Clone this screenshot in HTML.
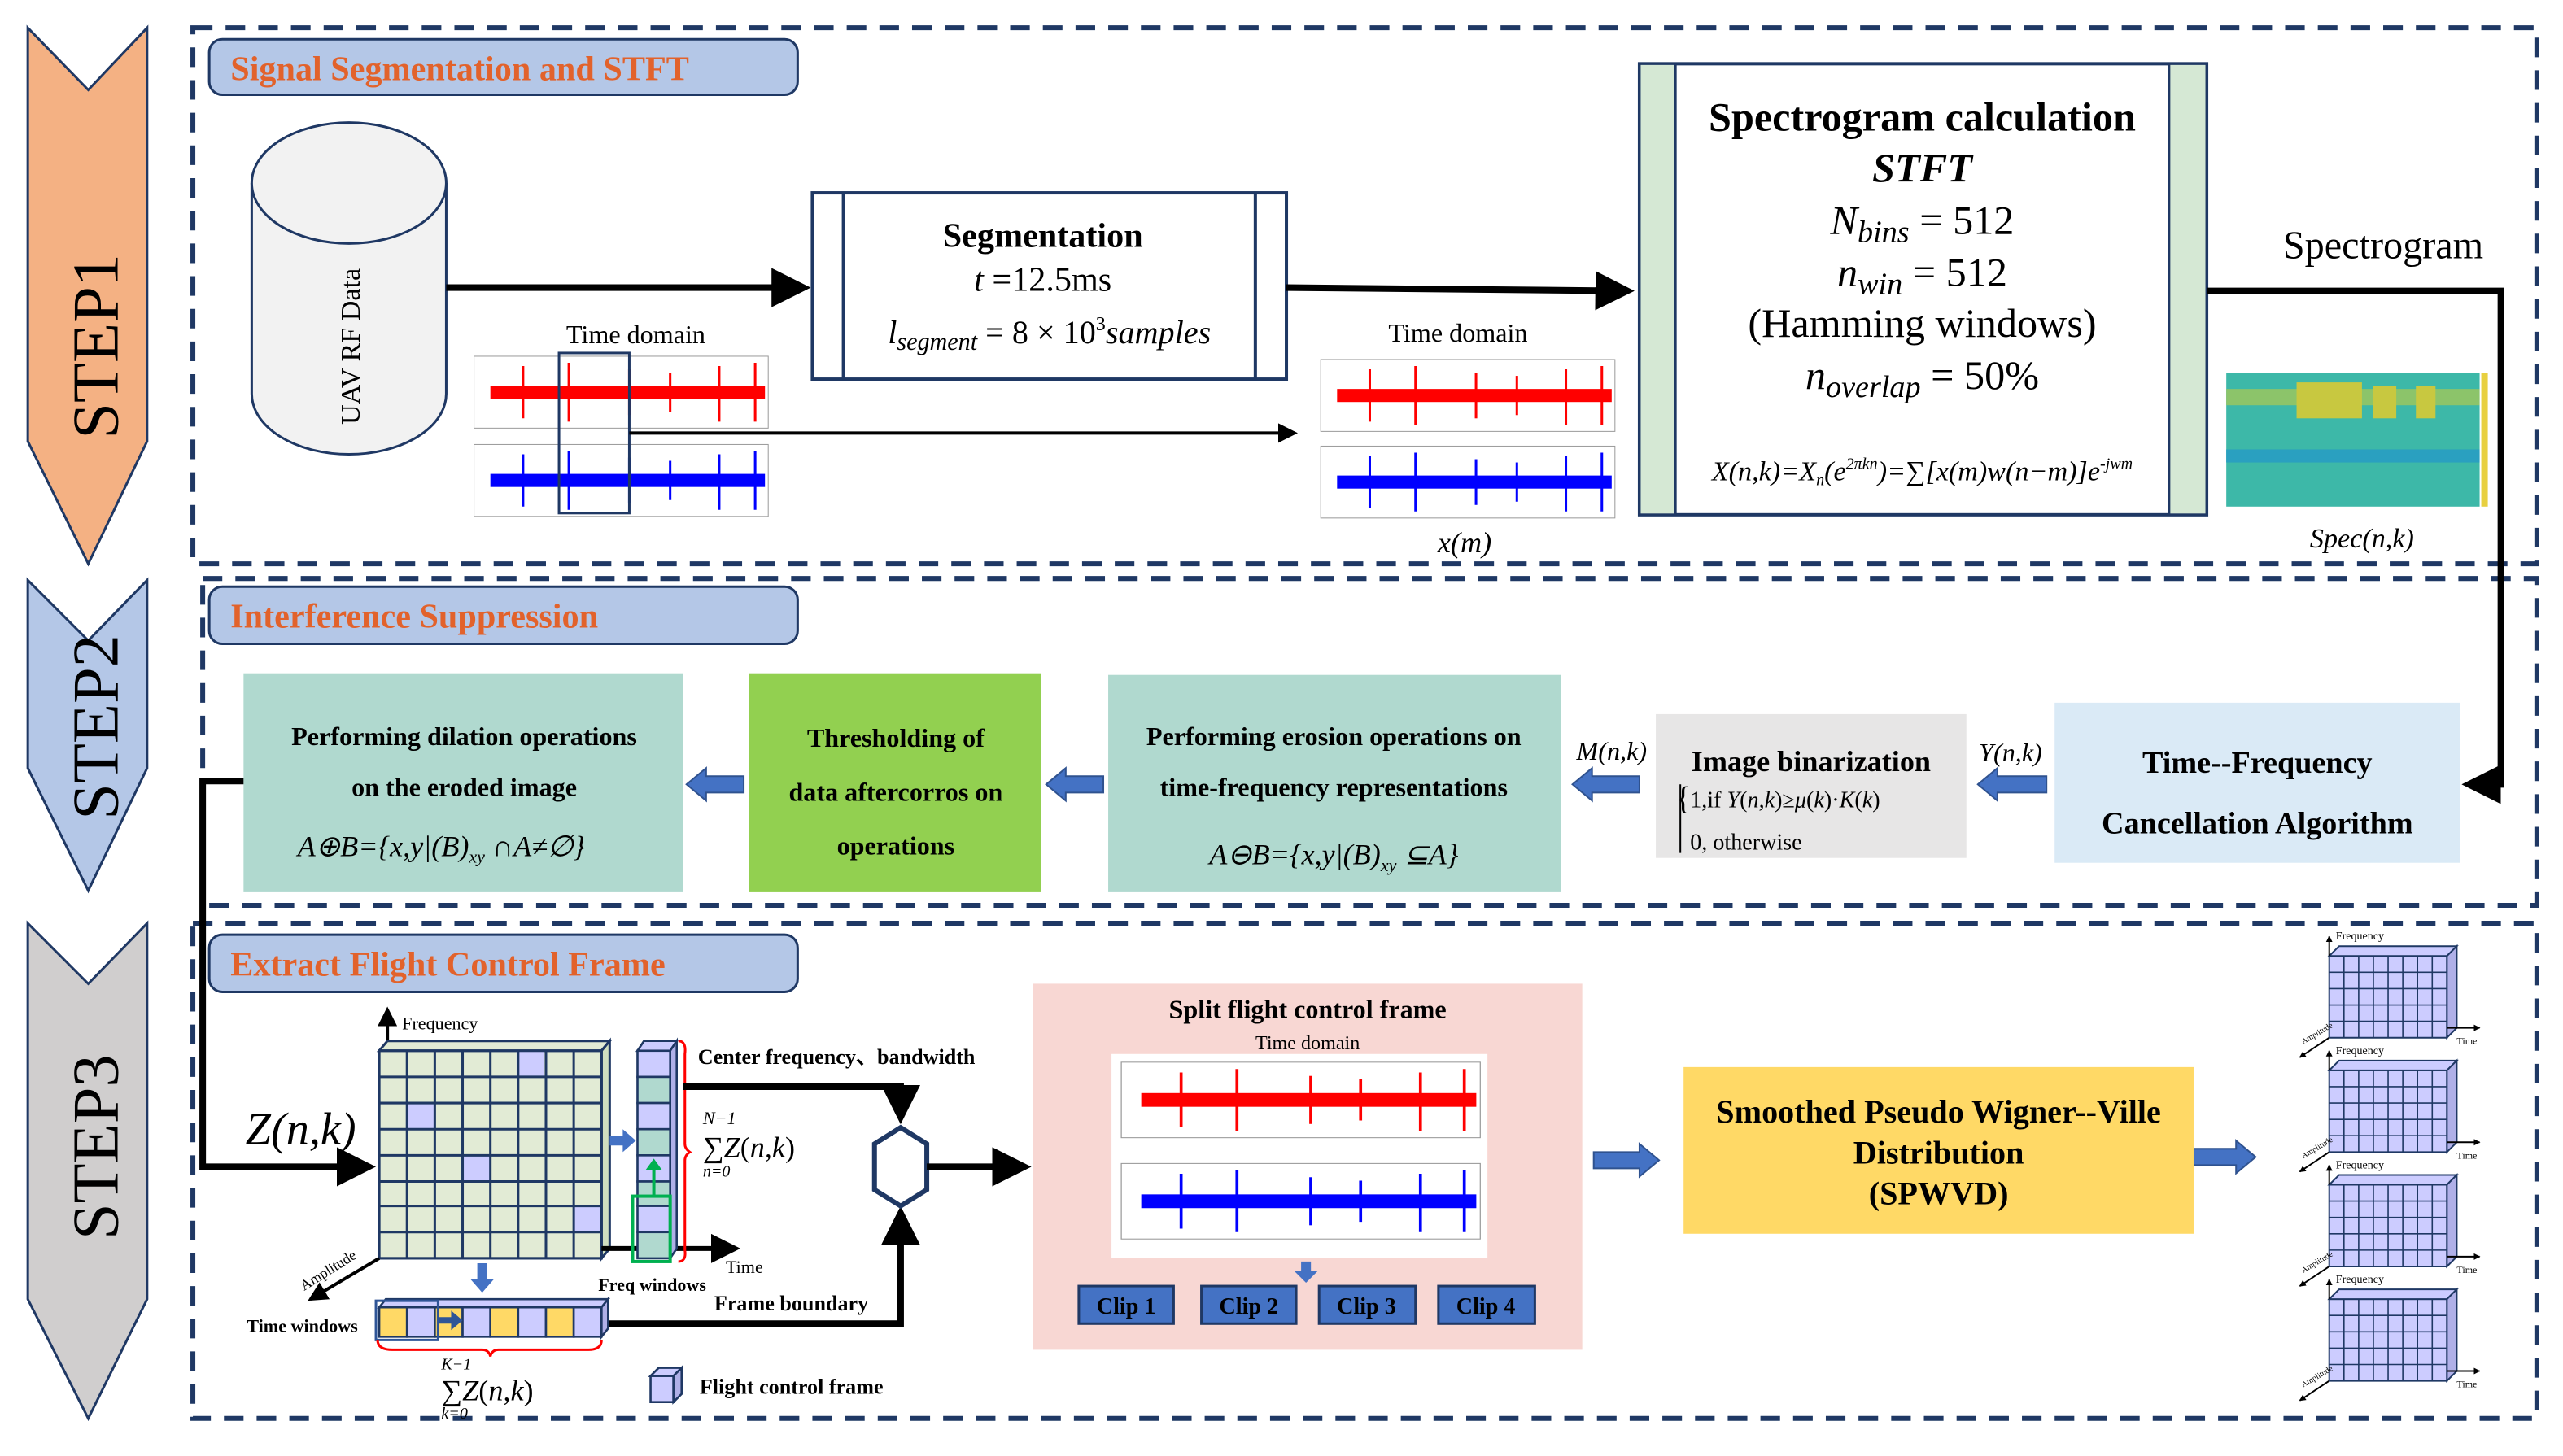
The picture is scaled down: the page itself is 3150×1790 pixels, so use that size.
<!DOCTYPE html>
<html><head><meta charset="utf-8"><style>
html,body{margin:0;padding:0;background:#fff;}
svg{display:block;}
text{font-family:"Liberation Serif",serif;}
</style></head><body>
<svg width="3150" height="1790" viewBox="0 0 1568 891" preserveAspectRatio="none" xmlns="http://www.w3.org/2000/svg">
<defs>
<marker id="ah" markerWidth="6" markerHeight="6" refX="5" refY="3" orient="auto" markerUnits="strokeWidth"><path d="M0,0 L6,3 L0,6 z" fill="#000"/></marker>
<marker id="ah2" markerWidth="4" markerHeight="4" refX="3.5" refY="2" orient="auto" markerUnits="strokeWidth"><path d="M0,0 L4,2 L0,4 z" fill="#000"/></marker>
<g id="plotR">
<rect x="0" y="0" width="180" height="44" fill="#fff" stroke="#999" stroke-width="0.5"/>
<rect x="10" y="18" width="168" height="8" fill="#f00"/>
<g stroke="#f00" stroke-width="1.5"><line x1="30" y1="6" x2="30" y2="38"/><line x1="58" y1="4" x2="58" y2="40"/><line x1="95" y1="8" x2="95" y2="36"/><line x1="120" y1="10" x2="120" y2="34"/><line x1="150" y1="6" x2="150" y2="40"/><line x1="172" y1="4" x2="172" y2="40"/></g>
</g>
<g id="plotB">
<rect x="0" y="0" width="180" height="44" fill="#fff" stroke="#999" stroke-width="0.5"/>
<rect x="10" y="18" width="168" height="8" fill="#00f"/>
<g stroke="#00f" stroke-width="1.5"><line x1="30" y1="6" x2="30" y2="38"/><line x1="58" y1="4" x2="58" y2="40"/><line x1="95" y1="8" x2="95" y2="36"/><line x1="120" y1="10" x2="120" y2="34"/><line x1="150" y1="6" x2="150" y2="40"/><line x1="172" y1="4" x2="172" y2="40"/></g>
</g>
<g id="cube3">
<path d="M0,8 L72,8 L72,58 L0,58 z" fill="#CCCCFF" stroke="#1F3864" stroke-width="1"/>
<path d="M0,8 L6,2 L78,2 L72,8 z" fill="#CCCCFF" stroke="#1F3864" stroke-width="1"/>
<path d="M72,8 L78,2 L78,52 L72,58 z" fill="#B0B0E8" stroke="#1F3864" stroke-width="1"/>
<g stroke="#1F3864" stroke-width="0.8">
<line x1="9" y1="8" x2="9" y2="58"/><line x1="18" y1="8" x2="18" y2="58"/><line x1="27" y1="8" x2="27" y2="58"/><line x1="36" y1="8" x2="36" y2="58"/><line x1="45" y1="8" x2="45" y2="58"/><line x1="54" y1="8" x2="54" y2="58"/><line x1="63" y1="8" x2="63" y2="58"/>
<line x1="0" y1="18" x2="72" y2="18"/><line x1="0" y1="28" x2="72" y2="28"/><line x1="0" y1="38" x2="72" y2="38"/><line x1="0" y1="48" x2="72" y2="48"/>
</g>
<line x1="0" y1="58" x2="-18" y2="70" stroke="#000" stroke-width="1" marker-end="url(#ah2)"/>
<line x1="72" y1="52" x2="92" y2="52" stroke="#000" stroke-width="1" marker-end="url(#ah2)"/>
<line x1="0" y1="8" x2="0" y2="-4" stroke="#000" stroke-width="1" marker-end="url(#ah2)"/>
<text x="4" y="-2" font-size="7">Frequency</text>
<text x="78" y="62" font-size="6">Time</text>
<text x="-16" y="62" font-size="5" transform="rotate(-30 -16 62)">Amplitude</text>
</g>
</defs>

<path d="M17,17 L54,55 L90,17 L90,270 L54,345 L17,270 z" fill="#F4B183" stroke="#1F3864" stroke-width="1.5"/>
<text transform="translate(72,212) rotate(-90)" font-size="40" text-anchor="middle" fill="#000">STEP1</text>
<path d="M17,355 L54,392 L90,355 L90,470 L54,545 L17,470 z" fill="#B4C7E7" stroke="#1F3864" stroke-width="1.5"/>
<text transform="translate(72,445) rotate(-90)" font-size="40" text-anchor="middle">STEP2</text>
<path d="M17,565 L54,602 L90,565 L90,795 L54,868 L17,795 z" fill="#D0CECE" stroke="#1F3864" stroke-width="1.5"/>
<text transform="translate(72,702) rotate(-90)" font-size="40" text-anchor="middle">STEP3</text>

<g fill="none" stroke="#1F3864" stroke-width="3" stroke-dasharray="12 8">
<rect x="118" y="17" width="1434" height="328"/>
<rect x="124" y="354" width="1428" height="200"/>
<rect x="118" y="565" width="1434" height="303"/>
</g>

<g fill="#B4C7E7" stroke="#1F3864" stroke-width="1.5">
<rect x="128" y="24" width="360" height="34" rx="8"/>
<rect x="128" y="359" width="360" height="35" rx="8"/>
<rect x="128" y="572" width="360" height="35" rx="8"/>
</g>
<g fill="#E2622B" font-weight="bold" font-size="21">
<text x="141" y="49">Signal Segmentation and STFT</text>
<text x="141" y="384">Interference Suppression</text>
<text x="141" y="597">Extract Flight Control Frame</text>
</g>

<!-- cylinder -->
<path d="M154,112 L154,241 A59.5,37 0 0 0 273,241 L273,112" fill="#F2F2F2" stroke="#1F3864" stroke-width="1.5"/>
<ellipse cx="213.5" cy="112" rx="59.5" ry="37" fill="#F2F2F2" stroke="#1F3864" stroke-width="1.5"/>
<text transform="translate(220,212) rotate(-90)" font-size="17" text-anchor="middle">UAV RF Data</text>

<line x1="273" y1="176" x2="492" y2="176" stroke="#000" stroke-width="4" marker-end="url(#ah)"/>

<text x="389" y="210" font-size="16" text-anchor="middle">Time domain</text>
<use href="#plotR" x="290" y="218"/>
<use href="#plotB" x="290" y="272"/>
<rect x="342" y="216" width="43" height="98" fill="none" stroke="#1F3864" stroke-width="1.5"/>
<line x1="385" y1="265" x2="792" y2="265" stroke="#000" stroke-width="2" marker-end="url(#ah)"/>

<rect x="497" y="118" width="290" height="114" fill="#fff" stroke="#1F3864" stroke-width="2"/>
<line x1="516" y1="118" x2="516" y2="232" stroke="#1F3864" stroke-width="2"/>
<line x1="768" y1="118" x2="768" y2="232" stroke="#1F3864" stroke-width="2"/>
<text x="638" y="151" font-size="21" font-weight="bold" text-anchor="middle">Segmentation</text>
<text x="638" y="178" font-size="21" text-anchor="middle"><tspan font-style="italic">t</tspan> =12.5ms</text>
<text x="642" y="210" font-size="20" text-anchor="middle"><tspan font-style="italic">l</tspan><tspan font-style="italic" font-size="15" dy="4">segment</tspan><tspan dy="-4"> = 8 × 10</tspan><tspan font-size="12" dy="-8">3</tspan><tspan dy="8" font-style="italic">samples</tspan></text>

<line x1="787" y1="176" x2="996" y2="178" stroke="#000" stroke-width="4" marker-end="url(#ah)"/>

<text x="892" y="209" font-size="16" text-anchor="middle">Time domain</text>
<use href="#plotR" x="808" y="220"/>
<use href="#plotB" x="808" y="273"/>
<text x="896" y="338" font-size="18" font-style="italic" text-anchor="middle">x(m)</text>

<rect x="1003" y="39" width="347" height="276" fill="#fff" stroke="#1F3864" stroke-width="2"/>
<rect x="1003" y="39" width="22" height="276" fill="#D5E8D4" stroke="#1F3864" stroke-width="1.5"/>
<rect x="1327" y="39" width="23" height="276" fill="#D5E8D4" stroke="#1F3864" stroke-width="1.5"/>
<text x="1176" y="80" font-size="25" font-weight="bold" text-anchor="middle">Spectrogram calculation</text>
<text x="1176" y="111" font-size="25" font-weight="bold" font-style="italic" text-anchor="middle">STFT</text>
<text x="1176" y="143" font-size="25" text-anchor="middle"><tspan font-style="italic">N</tspan><tspan font-style="italic" font-size="19" dy="5">bins</tspan><tspan dy="-5"> = 512</tspan></text>
<text x="1176" y="175" font-size="25" text-anchor="middle"><tspan font-style="italic">n</tspan><tspan font-style="italic" font-size="19" dy="5">win</tspan><tspan dy="-5"> = 512</tspan></text>
<text x="1176" y="206" font-size="25" text-anchor="middle">(Hamming windows)</text>
<text x="1176" y="238" font-size="25" text-anchor="middle"><tspan font-style="italic">n</tspan><tspan font-style="italic" font-size="19" dy="5">overlap</tspan><tspan dy="-5"> = 50%</tspan></text>
<text x="1176" y="294" font-size="17" font-style="italic" text-anchor="middle">X(n,k)=X<tspan font-size="10" dy="3">n</tspan><tspan dy="-3">(e</tspan><tspan font-size="10" dy="-7">2πkn</tspan><tspan dy="7">)=∑[x(m)w(n−m)]e</tspan><tspan font-size="10" dy="-7">-jwm</tspan></text>

<text x="1458" y="158" font-size="24" text-anchor="middle">Spectrogram</text>
<polyline points="1350,178 1530,178 1530,480 1510,480" fill="none" stroke="#000" stroke-width="4" marker-end="url(#ah)"/>

<rect x="1362" y="228" width="155" height="82" fill="#3DB8A8"/>
<rect x="1362" y="238" width="155" height="10" fill="#8CC46A"/>
<rect x="1405" y="234" width="40" height="22" fill="#C8C840"/>
<rect x="1452" y="236" width="14" height="20" fill="#C8C840"/>
<rect x="1478" y="236" width="12" height="20" fill="#C8C840"/>
<rect x="1362" y="275" width="155" height="8" fill="#2AA0C0"/>
<rect x="1518" y="228" width="4" height="82" fill="#E8D040"/>
<text x="1445" y="335" font-size="17" font-style="italic" text-anchor="middle">Spec(n,k)</text>

<rect x="1257" y="430" width="248" height="98" fill="#DAEAF6"/>
<text x="1381" y="473" font-size="19" font-weight="bold" text-anchor="middle">Time--Frequency</text>
<text x="1381" y="510" font-size="19" font-weight="bold" text-anchor="middle">Cancellation Algorithm</text>

<g fill="#4472C4" stroke="#2F528F" stroke-width="1">
<path d="M1252,475 L1222,475 L1222,470 L1210,480 L1222,490 L1222,485 L1252,485 z"/>
<path d="M1003,475 L974,475 L974,470 L962,480 L974,490 L974,485 L1003,485 z"/>
<path d="M675,475 L652,475 L652,470 L640,480 L652,490 L652,485 L675,485 z"/>
<path d="M455,475 L432,475 L432,470 L420,480 L432,490 L432,485 L455,485 z"/>
<path d="M975,705 L1003,705 L1003,700 L1015,710 L1003,720 L1003,715 L975,715 z"/>
<path d="M1342,703 L1368,703 L1368,698 L1380,708 L1368,718 L1368,713 L1342,713 z"/>
</g>

<text x="1230" y="466" font-size="16" font-style="italic" text-anchor="middle">Y(n,k)</text>
<rect x="1013" y="437" width="190" height="88" fill="#E7E6E6"/>
<text x="1108" y="472" font-size="18" font-weight="bold" text-anchor="middle">Image binarization</text>
<text x="1025" y="495" font-size="20">{</text>
<text x="1034" y="494" font-size="14">1,if  <tspan font-style="italic">Y</tspan>(<tspan font-style="italic">n,k</tspan>)≥<tspan font-style="italic">μ</tspan>(<tspan font-style="italic">k</tspan>)·<tspan font-style="italic">K</tspan>(<tspan font-style="italic">k</tspan>)</text>
<text x="1034" y="520" font-size="14">0, otherwise</text>
<line x1="1028" y1="480" x2="1028" y2="522" stroke="#000" stroke-width="1"/>
<text x="986" y="465" font-size="16" font-style="italic" text-anchor="middle">M(n,k)</text>

<rect x="678" y="413" width="277" height="133" fill="#B0D9CF"/>
<text x="816" y="456" font-size="16" font-weight="bold" text-anchor="middle">Performing erosion operations on</text>
<text x="816" y="487" font-size="16" font-weight="bold" text-anchor="middle">time-frequency representations</text>
<text x="816" y="529" font-size="18" font-style="italic" text-anchor="middle">A⊖B={x,y|(B)<tspan font-size="11" dy="4">xy</tspan><tspan dy="-4"> ⊆A}</tspan></text>

<rect x="458" y="412" width="179" height="134" fill="#92D050"/>
<text x="548" y="457" font-size="16" font-weight="bold" text-anchor="middle">Thresholding of</text>
<text x="548" y="490" font-size="16" font-weight="bold" text-anchor="middle">data aftercorros on</text>
<text x="548" y="523" font-size="16" font-weight="bold" text-anchor="middle">operations</text>

<rect x="149" y="412" width="269" height="134" fill="#B0D9CF"/>
<text x="284" y="456" font-size="16" font-weight="bold" text-anchor="middle">Performing dilation operations</text>
<text x="284" y="487" font-size="16" font-weight="bold" text-anchor="middle">on the eroded image</text>
<text x="270" y="524" font-size="18" font-style="italic" text-anchor="middle">A⊕B={x,y|(B)<tspan font-size="11" dy="4">xy</tspan><tspan dy="-4"> ∩A≠∅}</tspan></text>

<polyline points="149,478 124,478 124,714 226,714" fill="none" stroke="#000" stroke-width="4" marker-end="url(#ah)"/>
<text x="184" y="700" font-size="28" font-style="italic" text-anchor="middle">Z(n,k)</text>

<line x1="237" y1="640" x2="237" y2="618" stroke="#000" stroke-width="2" marker-end="url(#ah)"/>
<text x="246" y="630" font-size="11">Frequency</text>
<g stroke="#1F3864" stroke-width="1.5">
<path d="M232,643 L237,637 L373,637 L368,643 z" fill="#E2EBD5"/>
<path d="M368,643 L373,637 L373,764 L368,770 z" fill="#D0DEC0"/>
<rect x="232" y="643" width="136" height="127" fill="#E2EBD5"/>
</g>
<g fill="#CCCCFF">
<rect x="316" y="643" width="17" height="16"/><rect x="249" y="675" width="17" height="16"/>
<rect x="283" y="707" width="17" height="16"/><rect x="351" y="738" width="17" height="16"/>
</g>
<g stroke="#1F3864" stroke-width="1.5">
<line x1="249" y1="643" x2="249" y2="770"/><line x1="266" y1="643" x2="266" y2="770"/><line x1="283" y1="643" x2="283" y2="770"/><line x1="300" y1="643" x2="300" y2="770"/><line x1="317" y1="643" x2="317" y2="770"/><line x1="334" y1="643" x2="334" y2="770"/><line x1="351" y1="643" x2="351" y2="770"/>
<line x1="232" y1="659" x2="368" y2="659"/><line x1="232" y1="675" x2="368" y2="675"/><line x1="232" y1="691" x2="368" y2="691"/><line x1="232" y1="707" x2="368" y2="707"/><line x1="232" y1="723" x2="368" y2="723"/><line x1="232" y1="738" x2="368" y2="738"/><line x1="232" y1="754" x2="368" y2="754"/>
<rect x="232" y="643" width="136" height="127" fill="none"/>
</g>
<line x1="368" y1="764" x2="450" y2="764" stroke="#000" stroke-width="3" marker-end="url(#ah)"/>
<text x="444" y="779" font-size="11">Time</text>
<line x1="232" y1="770" x2="190" y2="795" stroke="#000" stroke-width="2" marker-end="url(#ah)"/>
<text transform="translate(186,790) rotate(-32)" font-size="9">Amplitude</text>

<g stroke="#1F3864" stroke-width="1.3">
<path d="M390,643 L394,637 L414,637 L410,643 z" fill="#CCCCFF"/>
<path d="M410,643 L414,637 L414,764 L410,770 z" fill="#B0B0E8"/>
<rect x="390" y="643" width="20" height="16" fill="#CCCCFF"/><rect x="390" y="659" width="20" height="16" fill="#B0D9CF"/>
<rect x="390" y="675" width="20" height="16" fill="#CCCCFF"/><rect x="390" y="691" width="20" height="16" fill="#B0D9CF"/>
<rect x="390" y="707" width="20" height="16" fill="#CCCCFF"/><rect x="390" y="723" width="20" height="15" fill="#B0D9CF"/>
<rect x="390" y="738" width="20" height="16" fill="#CCCCFF"/><rect x="390" y="754" width="20" height="16" fill="#B0D9CF"/>
</g>
<rect x="387" y="732" width="23" height="40" fill="none" stroke="#00B050" stroke-width="2"/>
<line x1="400" y1="732" x2="400" y2="714" stroke="#00B050" stroke-width="2"/><path d="M395,716 L400,709 L405,716 z" fill="#00B050"/>
<path d="M415,637 Q420,637 419,645 L419,700 Q419,703 422,705 Q419,707 419,710 L419,765 Q420,772 415,772" fill="none" stroke="#f00" stroke-width="1.5"/>
<path d="M373,695 L381,695 L381,691 L389,698 L381,705 L381,701 L373,701 z" fill="#4472C4"/>
<text x="366" y="790" font-size="11" font-weight="bold">Freq windows</text>

<text x="427" y="651" font-size="13" font-weight="bold">Center frequency、bandwidth</text>
<text x="430" y="688" font-size="11" font-style="italic">N−1</text>
<text x="430" y="708" font-size="18">∑<tspan font-style="italic">Z</tspan>(<tspan font-style="italic">n,k</tspan>)</text>
<text x="430" y="720" font-size="10" font-style="italic">n=0</text>

<polyline points="418,665 551,665 551,684" fill="none" stroke="#000" stroke-width="4" marker-end="url(#ah)"/>
<polyline points="368,810 551,810 551,742" fill="none" stroke="#000" stroke-width="4" marker-end="url(#ah)"/>
<path d="M551,690 L567,700 L567,728 L551,738 L535,728 L535,700 z" fill="#fff" stroke="#1F3864" stroke-width="3"/>
<line x1="567" y1="714" x2="627" y2="714" stroke="#000" stroke-width="4" marker-end="url(#ah)"/>
<text x="437" y="802" font-size="13" font-weight="bold">Frame boundary</text>

<path d="M292,773 L298,773 L298,783 L302,783 L295,791 L288,783 L292,783 z" fill="#4472C4"/>
<g stroke="#1F3864" stroke-width="1.3">
<path d="M232,800 L236,795 L372,795 L368,800 z" fill="#CCCCFF"/>
<path d="M368,800 L372,795 L372,813 L368,818 z" fill="#B0B0E8"/>
<rect x="232" y="800" width="17" height="18" fill="#FFD966"/><rect x="249" y="800" width="17" height="18" fill="#CCCCFF"/>
<rect x="266" y="800" width="17" height="18" fill="#FFD966"/><rect x="283" y="800" width="17" height="18" fill="#CCCCFF"/>
<rect x="300" y="800" width="17" height="18" fill="#FFD966"/><rect x="317" y="800" width="17" height="18" fill="#CCCCFF"/>
<rect x="334" y="800" width="17" height="18" fill="#FFD966"/><rect x="351" y="800" width="17" height="18" fill="#CCCCFF"/>
</g>
<rect x="230" y="796" width="38" height="24" fill="none" stroke="#2F5597" stroke-width="1.5"/>
<path d="M268,806 L276,806 L276,802 L283,808 L276,814 L276,810 L268,810 z" fill="#2F5597"/>
<path d="M231,820 Q231,826 240,826 L295,826 Q299,826 300,830 Q301,826 305,826 L360,826 Q368,826 368,820" fill="none" stroke="#f00" stroke-width="1.5"/>
<text x="151" y="815" font-size="11" font-weight="bold">Time windows</text>
<text x="270" y="838" font-size="10" font-style="italic">K−1</text>
<text x="270" y="857" font-size="18">∑<tspan font-style="italic">Z</tspan>(<tspan font-style="italic">n,k</tspan>)</text>
<text x="270" y="868" font-size="10" font-style="italic">k=0</text>

<g stroke="#1F3864" stroke-width="1.3">
<rect x="398" y="842" width="14" height="16" fill="#CCCCFF"/>
<path d="M398,842 L403,837 L417,837 L412,842 z" fill="#CCCCFF"/>
<path d="M412,842 L417,837 L417,853 L412,858 z" fill="#B0B0E8"/>
</g>
<text x="428" y="853" font-size="13" font-weight="bold">Flight control frame</text>

<rect x="632" y="602" width="336" height="224" fill="#F8D7D3"/>
<text x="800" y="623" font-size="16" font-weight="bold" text-anchor="middle">Split flight control frame</text>
<text x="800" y="642" font-size="12" text-anchor="middle">Time domain</text>
<rect x="680" y="645" width="230" height="125" fill="#fff"/>
<use href="#plotR" x="0" y="0" transform="translate(686,650) scale(1.22,1.05)"/>
<use href="#plotB" x="0" y="0" transform="translate(686,712) scale(1.22,1.05)"/>
<path d="M796,772 L802,772 L802,778 L806,778 L799,785 L792,778 L796,778 z" fill="#4472C4"/>
<g fill="#4472C4" stroke="#1F3864" stroke-width="1.5">
<rect x="660" y="787" width="58" height="23"/><rect x="735" y="787" width="58" height="23"/>
<rect x="807" y="787" width="59" height="23"/><rect x="880" y="787" width="59" height="23"/>
</g>
<g font-size="14" font-weight="bold" text-anchor="middle" fill="#000">
<text x="689" y="804">Clip 1</text><text x="764" y="804">Clip 2</text><text x="836" y="804">Clip 3</text><text x="909" y="804">Clip 4</text>
</g>

<rect x="1030" y="653" width="312" height="102" fill="#FFD966"/>
<text x="1186" y="687" font-size="20" font-weight="bold" text-anchor="middle">Smoothed Pseudo Wigner--Ville</text>
<text x="1186" y="712" font-size="20" font-weight="bold" text-anchor="middle">Distribution</text>
<text x="1186" y="737" font-size="20" font-weight="bold" text-anchor="middle">(SPWVD)</text>

<use href="#cube3" x="1425" y="577"/>
<use href="#cube3" x="1425" y="647"/>
<use href="#cube3" x="1425" y="717"/>
<use href="#cube3" x="1425" y="787"/>
</svg>
</body></html>
